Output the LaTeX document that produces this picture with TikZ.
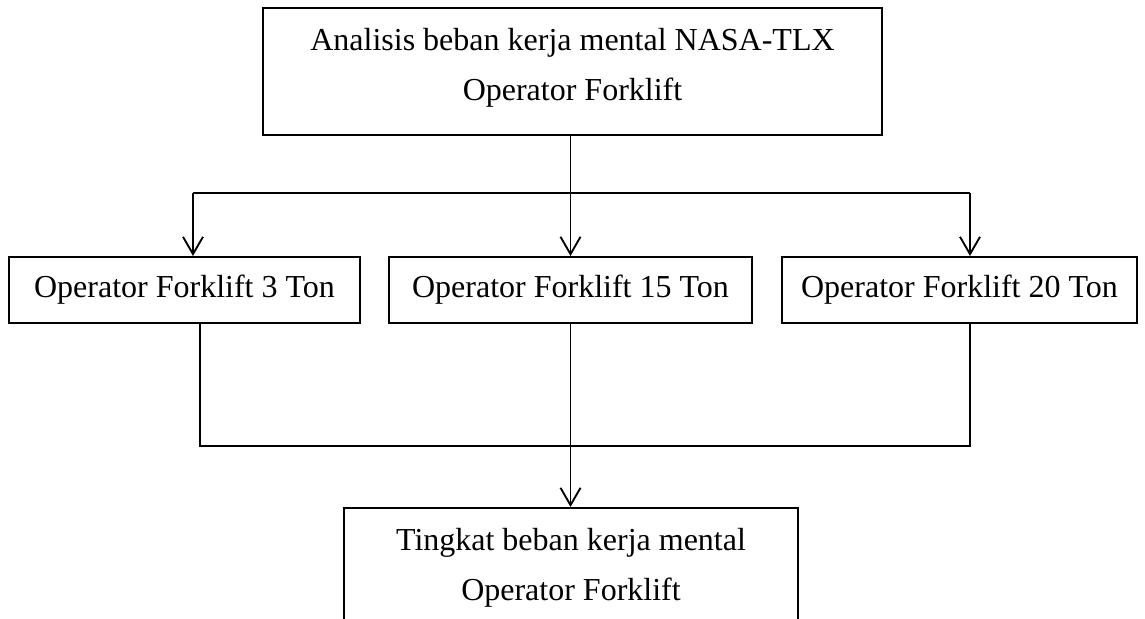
\documentclass[tikz,border=0pt]{standalone}
\usepackage{fontspec}
\setmainfont{Liberation Serif}
\usetikzlibrary{arrows.meta,calc}

\begin{document}
\begin{tikzpicture}[x=0.75pt,y=-0.75pt,
    box/.style={draw, line width=1.5pt, inner sep=0pt},
    txt/.style={font=\fontsize{24}{28}\selectfont, inner sep=0pt},
    line/.style={line width=1.4pt},
    arr/.style={line width=1.4pt, -{Straight Barb[length=13pt,width=15pt,line width=1.4pt]}}]
  \useasboundingbox (0,0) rectangle (1145,618);
  \clip (0,0) rectangle (1145,618);

  % top box
  \node[box, minimum width=619*0.75pt, minimum height=127*0.75pt] (top) at (572.5,71.5) {};
  \node[txt, anchor=base] (toptxt1) at (572.5,50) {Analisis beban kerja mental NASA-TLX};
  \node[txt, anchor=base] (toptxt2) at (572.5,100) {Operator Forklift};

  % three forklift classes
  \node[box, txt, minimum width=351*0.75pt, minimum height=66*0.75pt] (f3) at (184.5,290) {Operator Forklift 3 Ton};
  \node[box, txt, minimum width=363*0.75pt, minimum height=66*0.75pt] (f15) at (570.5,290) {Operator Forklift 15 Ton};
  \node[box, txt, minimum width=355*0.75pt, minimum height=66*0.75pt] (f20) at (959.5,290) {Operator Forklift 20 Ton};

  % result box (runs off the lower edge)
  \node[box, minimum width=454*0.75pt, minimum height=142*0.75pt] (res) at (571,579) {};
  \node[txt, anchor=base] (restxt1) at (571,550) {Tingkat beban kerja mental};
  \node[txt, anchor=base] (restxt2) at (571,600) {Operator Forklift};

  % branch points
  \coordinate (s1) at (193,193);
  \coordinate (s2) at (570.5,193);
  \coordinate (s3) at (970,193);
  \coordinate (m1) at (200,446);
  \coordinate (m2) at (570.5,446);
  \coordinate (m3) at (970,446);

  % split
  \draw[line] (top.south -| s2) -- (s2);
  \draw[line] (s1) -- (s3);
  \draw[arr] (s1) -- (s1 |- f3.north);
  \draw[arr] (s2) -- (f15.north);
  \draw[arr] (s3) -- (s3 |- f20.north);

  % merge
  \draw[line] (m1 |- f3.south) -- (m1) -- (m3) -- (m3 |- f20.south);
  \draw[line] (f15.south) -- (m2);
  \draw[arr] (m2) -- (m2 |- res.north);
\end{tikzpicture}
\end{document}
